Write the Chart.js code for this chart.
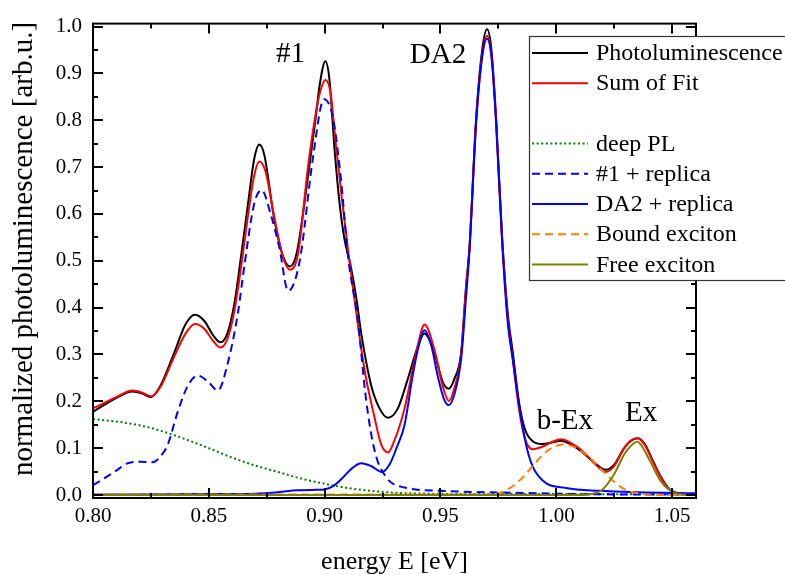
<!DOCTYPE html>
<html>
<head>
<meta charset="utf-8">
<script src="https://cdn.jsdelivr.net/npm/chart.js@4/dist/chart.umd.min.js"></script>
<style>
  html, body { margin: 0; padding: 0; background: #fff; }
  #wrap { width: 785px; height: 575px; }
</style>
</head>
<body>
<div id="wrap"><canvas id="plChart" width="785" height="575"></canvas></div>
<script>
// données : [énergie eV, intensité normalisée]
const photoluminescence = [
  [0.800,0.178],[0.805,0.193],[0.810,0.207],[0.817,0.221],[0.821,0.217],[0.825,0.209],[0.829,0.232],
  [0.835,0.303],[0.840,0.365],[0.844,0.385],[0.848,0.372],[0.852,0.340],[0.855,0.326],[0.858,0.345],
  [0.861,0.408],[0.864,0.513],[0.867,0.625],[0.8695,0.715],[0.8718,0.748],[0.874,0.725],[0.878,0.596],
  [0.882,0.510],[0.885,0.488],[0.888,0.518],[0.892,0.650],[0.896,0.800],[0.898,0.880],[0.9003,0.926],
  [0.902,0.890],[0.9043,0.736],[0.9065,0.620],[0.9086,0.545],[0.911,0.495],[0.9137,0.420],[0.9158,0.345],
  [0.9201,0.234],[0.9237,0.185],[0.9273,0.165],[0.9316,0.185],[0.9359,0.248],[0.9402,0.317],[0.9431,0.345],
  [0.9474,0.303],[0.951,0.241],[0.9536,0.227],[0.956,0.248],[0.9589,0.303],[0.961,0.443],[0.9625,0.527],
  [0.9654,0.805],[0.968,0.950],[0.9701,0.994],[0.972,0.950],[0.974,0.805],[0.9765,0.560],[0.979,0.390],
  [0.9812,0.305],[0.984,0.195],[0.9865,0.140],[0.9898,0.115],[0.9941,0.109],[0.998,0.112],[1.002,0.116],
  [1.006,0.109],[1.0113,0.091],[1.016,0.071],[1.0214,0.054],[1.025,0.065],[1.029,0.098],[1.032,0.115],
  [1.035,0.121],[1.038,0.110],[1.042,0.070],[1.045,0.040],[1.0487,0.013],[1.052,0.005],[1.056,0.002],
  [1.0603,0.001]
];
const sumOfFit = [
  [0.800,0.185],[0.805,0.197],[0.810,0.209],[0.817,0.223],[0.821,0.219],[0.825,0.211],[0.829,0.230],
  [0.835,0.295],[0.840,0.345],[0.844,0.365],[0.848,0.355],[0.852,0.328],[0.855,0.315],[0.858,0.333],
  [0.861,0.392],[0.864,0.490],[0.867,0.600],[0.8695,0.680],[0.8718,0.712],[0.8745,0.690],[0.878,0.600],
  [0.882,0.508],[0.885,0.481],[0.8885,0.515],[0.8928,0.700],[0.896,0.810],[0.898,0.860],[0.9003,0.886],
  [0.9025,0.860],[0.9048,0.750],[0.9075,0.630],[0.910,0.527],[0.9122,0.443],[0.9172,0.268],[0.9216,0.164],
  [0.9244,0.108],[0.9273,0.091],[0.930,0.115],[0.9345,0.185],[0.9402,0.320],[0.9431,0.364],[0.9474,0.310],
  [0.951,0.232],[0.9536,0.201],[0.956,0.228],[0.9589,0.300],[0.961,0.440],[0.9625,0.527],[0.9654,0.800],
  [0.968,0.940],[0.9701,0.980],[0.972,0.940],[0.974,0.800],[0.9765,0.555],[0.979,0.380],[0.9812,0.290],
  [0.984,0.180],[0.9865,0.120],[0.9898,0.098],[0.994,0.103],[0.998,0.113],[1.002,0.119],[1.006,0.112],
  [1.0113,0.094],[1.016,0.070],[1.0214,0.049],[1.025,0.062],[1.029,0.098],[1.032,0.116],[1.035,0.121],
  [1.038,0.108],[1.042,0.068],[1.045,0.038],[1.0487,0.012],[1.052,0.004],[1.056,0.001],[1.0603,0.000]
];
const deepPL = [
  [0.800,0.162],[0.810,0.157],[0.820,0.149],[0.830,0.136],[0.840,0.119],[0.850,0.100],[0.860,0.080],
  [0.870,0.063],[0.880,0.049],[0.890,0.035],[0.900,0.024],[0.910,0.015],[0.920,0.009],[0.930,0.005],
  [0.945,0.003],[0.970,0.002],[1.000,0.002],[1.0603,0.001]
];
const peak1Replica = [
  [0.800,0.021],[0.805,0.036],[0.810,0.052],[0.815,0.068],[0.8205,0.071],[0.8259,0.070],[0.8295,0.085],
  [0.8323,0.108],[0.8366,0.178],[0.841,0.234],[0.8453,0.255],[0.850,0.240],[0.8539,0.223],[0.8582,0.282],
  [0.8625,0.387],[0.8654,0.492],[0.8697,0.624],[0.8728,0.651],[0.8769,0.596],[0.8805,0.527],[0.8842,0.436],
  [0.8892,0.499],[0.895,0.722],[0.8997,0.845],[0.9036,0.805],[0.9072,0.666],[0.910,0.513],[0.9143,0.373],
  [0.918,0.199],[0.9216,0.094],[0.9266,0.038],[0.9345,0.016],[0.950,0.009],[0.970,0.006],[0.990,0.004],
  [1.010,0.002],[1.0603,0.001]
];
const da2Replica = [
  [0.800,0.001],[0.850,0.002],[0.870,0.003],[0.880,0.006],[0.888,0.010],[0.895,0.011],[0.900,0.012],
  [0.904,0.020],[0.908,0.038],[0.912,0.058],[0.9158,0.068],[0.920,0.062],[0.9247,0.049],[0.928,0.065],
  [0.931,0.100],[0.9345,0.150],[0.938,0.255],[0.9402,0.310],[0.9431,0.352],[0.946,0.320],[0.949,0.250],
  [0.9515,0.205],[0.9536,0.192],[0.956,0.215],[0.9589,0.290],[0.961,0.420],[0.9625,0.520],[0.9654,0.795],
  [0.968,0.935],[0.9701,0.974],[0.972,0.935],[0.974,0.795],[0.9765,0.550],[0.979,0.370],[0.9812,0.290],
  [0.9848,0.164],[0.9884,0.080],[0.9941,0.031],[1.0042,0.015],[1.0185,0.009],[1.035,0.006],[1.0603,0.004]
];
const boundExciton = [
  [0.800,0.001],[0.970,0.001],[0.975,0.004],[0.980,0.015],[0.985,0.035],[0.990,0.063],[0.995,0.090],
  [1.000,0.105],[1.003,0.108],[1.007,0.104],[1.010,0.096],[1.015,0.077],[1.020,0.052],[1.025,0.028],
  [1.030,0.011],[1.035,0.004],[1.040,0.001],[1.0603,0.000]
];
const freeExciton = [
  [0.800,0.000],[1.010,0.000],[1.015,0.002],[1.020,0.012],[1.025,0.045],[1.030,0.092],[1.035,0.114],
  [1.040,0.077],[1.045,0.030],[1.050,0.007],[1.055,0.001],[1.0603,0.000]
];

const xTicks = [0.80, 0.85, 0.90, 0.95, 1.00, 1.05];
const yTicks = [0.0, 0.1, 0.2, 0.3, 0.4, 0.5, 0.6, 0.7, 0.8, 0.9, 1.0];
const xMinorTicks = [0.825, 0.875, 0.925, 0.975, 1.025];
const yMinorTicks = [0.05, 0.15, 0.25, 0.35, 0.45, 0.55, 0.65, 0.75, 0.85, 0.95];

const peakNames = ['#1', 'DA2', 'b-Ex', 'Ex'];
// positions des étiquettes (en unités des axes)
const peakNamePos = [[0.8853, 0.925], [0.9489, 0.923], [1.0037, 0.140], [1.0366, 0.157]];

const yTitle = 'normalized photoluminescence [arb.u.]';
const FONT = "'Liberation Serif', 'DejaVu Serif', serif";

function toXY(pairs) {
  return pairs.map(p => ({ x: p[0], y: p[1] }));
}

function serie(label, pairs, color, dash, order) {
  return {
    label: label,
    data: toXY(pairs),
    borderColor: color,
    borderWidth: 2,
    borderDash: dash,
    fill: false,
    pointRadius: 0,
    cubicInterpolationMode: 'monotone',
    order: order
  };
}

// cadre + graduations vers l'intérieur sur les quatre côtés
const frameTicks = {
  id: 'frameTicks',
  afterDatasetsDraw(chart) {
    const { ctx, chartArea: a, scales: { x, y } } = chart;
    ctx.save();
    ctx.strokeStyle = '#000';
    ctx.lineWidth = 2;
    ctx.strokeRect(a.left, a.top, a.right - a.left, a.bottom - a.top);
    const tick = (vals, len, horiz) => {
      vals.forEach(v => {
        ctx.beginPath();
        if (horiz) {
          const px = Math.round(x.getPixelForValue(v));
          ctx.moveTo(px, a.bottom); ctx.lineTo(px, a.bottom - len);
          ctx.moveTo(px, a.top); ctx.lineTo(px, a.top + len);
        } else {
          const py = Math.round(y.getPixelForValue(v));
          ctx.moveTo(a.left, py); ctx.lineTo(a.left + len, py);
          ctx.moveTo(a.right, py); ctx.lineTo(a.right - len, py);
        }
        ctx.stroke();
      });
    };
    tick(xTicks, 10, true);
    tick(xMinorTicks, 5, true);
    tick(yTicks, 10, false);
    tick(yMinorTicks, 5, false);

    ctx.fillStyle = '#000';
    ctx.font = '29px ' + FONT;
    ctx.textAlign = 'center';
    ctx.textBaseline = 'alphabetic';
    peakNames.forEach((t, i) => {
      ctx.fillText(t, x.getPixelForValue(peakNamePos[i][0]), y.getPixelForValue(peakNamePos[i][1]));
    });

    // titre de l'axe y, un peu au-dessus du centre comme sur l'original
    ctx.save();
    ctx.translate(24, 249);
    ctx.rotate(-Math.PI / 2);
    ctx.font = '29px ' + FONT;
    ctx.textBaseline = 'middle';
    ctx.fillText(yTitle, 0, 0);
    ctx.restore();
    ctx.restore();
  }
};

// légende encadrée, avec une ligne vide après "Sum of Fit"
const boxLegend = {
  id: 'boxLegend',
  afterDraw(chart) {
    const ctx = chart.ctx;
    const bx = 529, by = 36, bw = 262, bh = 244;
    ctx.save();
    ctx.fillStyle = '#fff';
    ctx.fillRect(bx, by, bw, bh);
    ctx.strokeStyle = '#333';
    ctx.lineWidth = 1.2;
    ctx.strokeRect(bx + 0.5, by + 0.5, bw, bh);
    ctx.font = '24px ' + FONT;
    ctx.textBaseline = 'middle';
    ctx.textAlign = 'left';
    chart.data.datasets.forEach((ds, i) => {
      const row = i < 2 ? i : i + 1;
      const ly = 53 + row * 30.2;
      ctx.beginPath();
      ctx.strokeStyle = ds.borderColor;
      ctx.lineWidth = 2;
      ctx.setLineDash(ds.borderDash || []);
      ctx.moveTo(532, ly);
      ctx.lineTo(588, ly);
      ctx.stroke();
      ctx.setLineDash([]);
      ctx.fillStyle = '#000';
      ctx.fillText(ds.label, 596, ly + 1);
    });
    ctx.restore();
  }
};

Chart.defaults.font.family = FONT;
Chart.defaults.color = '#000';

const ctx = document.getElementById('plChart').getContext('2d');
new Chart(ctx, {
  type: 'line',
  data: {
    datasets: [
      serie('Photoluminescence', photoluminescence, '#000000', [], 7),
      serie('Sum of Fit', sumOfFit, '#ff0000', [], 6),
      serie('deep PL', deepPL, '#008000', [2, 2.6], 5),
      serie('#1 + replica', peak1Replica, '#0000ff', [8, 5], 4),
      serie('DA2 + replica', da2Replica, '#0000ff', [], 3),
      serie('Bound exciton', boundExciton, '#ff8000', [8, 5], 2),
      serie('Free exciton', freeExciton, '#808000', [], 1)
    ]
  },
  options: {
    responsive: false,
    animation: false,
    devicePixelRatio: 1,
    layout: { padding: { left: 0, right: 89, top: 14, bottom: 0 } },
    plugins: {
      legend: { display: false },
      tooltip: { enabled: false }
    },
    scales: {
      x: {
        type: 'linear',
        min: 0.80,
        max: 1.0603,
        afterFit: s => { s.height = 77; },
        afterBuildTicks: s => { s.ticks = xTicks.map(v => ({ value: v })); },
        grid: { display: false, drawTicks: false },
        border: { display: false },
        ticks: {
          autoSkip: false,
          maxRotation: 0,
          padding: 6,
          font: { size: 21 },
          callback: v => v.toFixed(2)
        },
        title: {
          display: true,
          text: 'energy E [eV]',
          font: { size: 26, lineHeight: 1.0 },
          padding: { top: 0, bottom: 0 }
        }
      },
      y: {
        type: 'linear',
        min: -0.0063,
        max: 1.0063,
        afterFit: s => { s.width = 93; },
        afterBuildTicks: s => { s.ticks = yTicks.map(v => ({ value: v })); },
        grid: { display: false, drawTicks: false },
        border: { display: false },
        ticks: {
          padding: 11,
          font: { size: 21 },
          callback: v => v.toFixed(1)
        },
        title: { display: false }
      }
    }
  },
  plugins: [frameTicks, boxLegend]
});
</script>
</body>
</html>
